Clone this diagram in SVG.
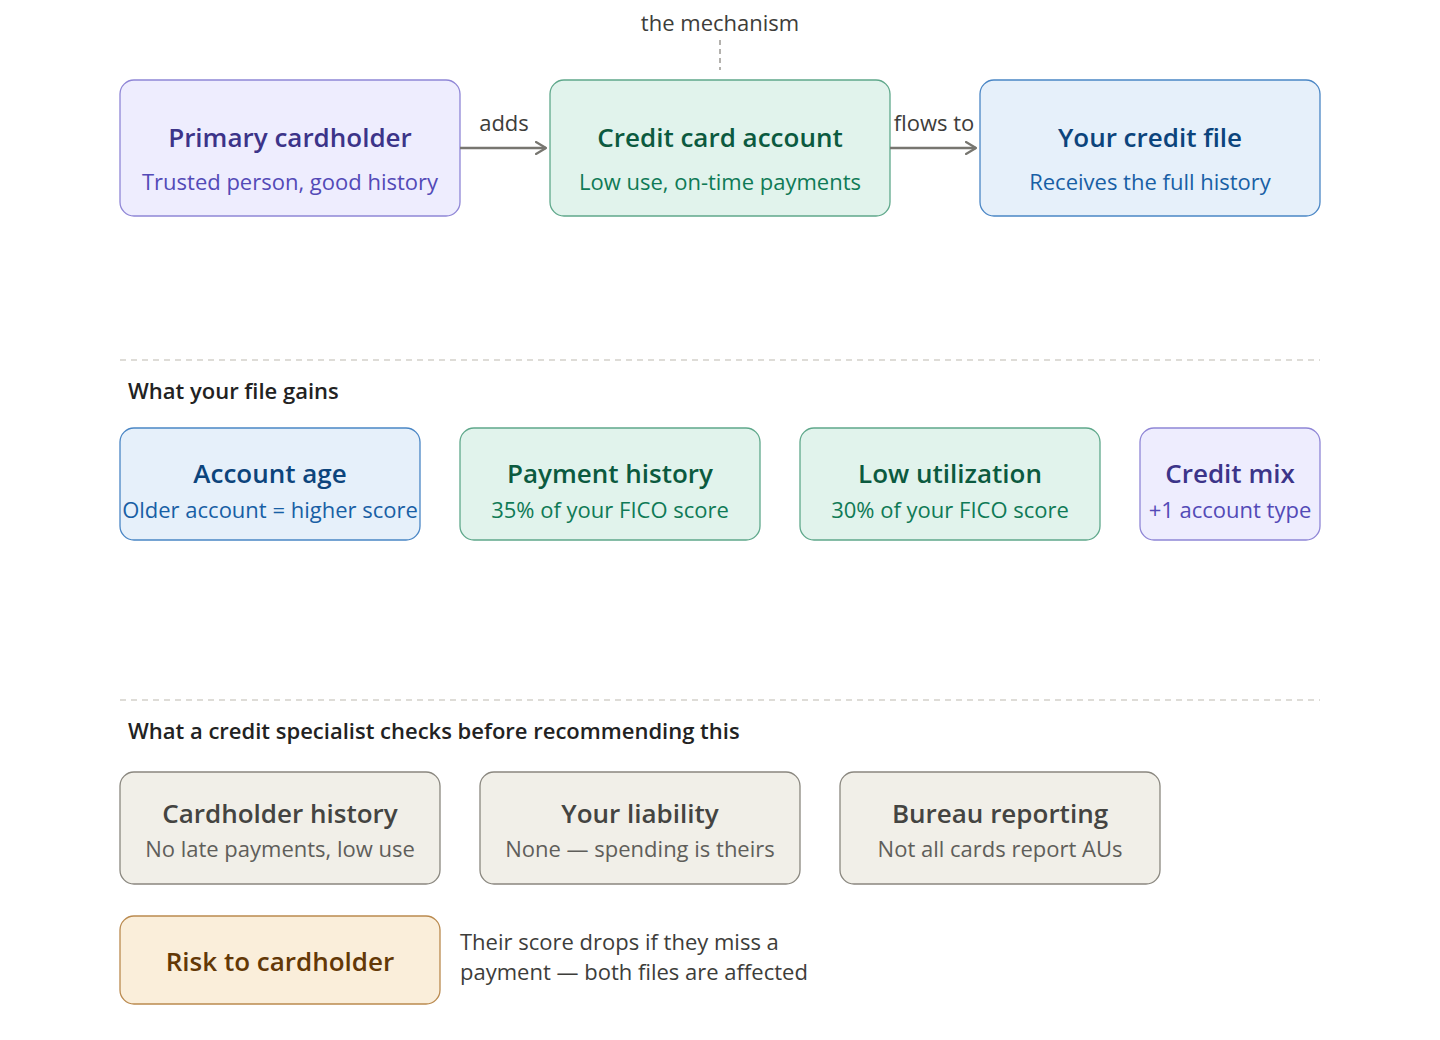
<svg xmlns="http://www.w3.org/2000/svg" width="1440" height="1040" viewBox="0 0 1440 1040">
<defs>
<marker id="arr" viewBox="0 0 12 14" refX="11" refY="7" markerWidth="12" markerHeight="14" markerUnits="userSpaceOnUse" orient="auto">
<path d="M1 1 L11 7 L1 13" fill="none" stroke="#777670" stroke-width="2.2" stroke-linecap="round" stroke-linejoin="round"/>
</marker>
<style>
text{font-family:"Open Sans","Noto Sans",sans-serif;}
.t{font-size:26px;font-weight:600;text-anchor:middle;}
.s{font-size:22px;text-anchor:middle;}
.lbl{font-size:22px;fill:#3d3d3a;}
.hd{font-size:22px;font-weight:600;fill:#222;}
.sep{stroke:#d3d1ca;stroke-width:1.5;stroke-dasharray:6 5;}
.purple rect{fill:#EEEDFE;stroke:#8F86D6;stroke-width:1.3;}
.purple .t{fill:#3C3489;} .purple .s{fill:#534AB7;}
.green rect{fill:#E1F3EC;stroke:#5FA88B;stroke-width:1.3;}
.green .t{fill:#0B5A3F;} .green .s{fill:#0F7A56;}
.blue rect{fill:#E6F0FA;stroke:#4A86C5;stroke-width:1.3;}
.blue .t{fill:#0C447C;} .blue .s{fill:#185FA5;}
.gray rect{fill:#F1EFE8;stroke:#8A877F;stroke-width:1.3;}
.gray .t{fill:#444441;} .gray .s{fill:#5F5E5A;}
.amber rect{fill:#FAEEDA;stroke:#BA8A4F;stroke-width:1.3;}
.amber .t{fill:#633806;}
.conn{stroke:#777670;stroke-width:2.5;fill:none;}
</style>
</defs>

<text class="lbl" x="720" y="31" text-anchor="middle">the mechanism</text>
<line x1="720" y1="40" x2="720" y2="70" stroke="#9a9892" stroke-width="1.5" stroke-dasharray="5 4"/>

<g id="primary" class="purple"><rect x="120" y="80" width="340" height="136" rx="14"/><text class="t" x="290" y="147">Primary cardholder</text><text class="s" x="290" y="190">Trusted person, good history</text></g>
<g id="account" class="green"><rect x="550" y="80" width="340" height="136" rx="14"/><text class="t" x="720" y="147">Credit card account</text><text class="s" x="720" y="190">Low use, on-time payments</text></g>
<g id="file" class="blue"><rect x="980" y="80" width="340" height="136" rx="14"/><text class="t" x="1150" y="147">Your credit file</text><text class="s" x="1150" y="190">Receives the full history</text></g>

<g id="connectors">
<line class="conn" x1="460" y1="148" x2="546" y2="148" marker-end="url(#arr)"/>
<text class="lbl" x="504" y="131" text-anchor="middle">adds</text>
<line class="conn" x1="890" y1="148" x2="976" y2="148" marker-end="url(#arr)"/>
<text class="lbl" x="934" y="131" text-anchor="middle">flows to</text>
</g>

<line class="sep" x1="120" y1="360" x2="1320" y2="360"/>
<text class="hd" x="128" y="399">What your file gains</text>

<g id="age" class="blue"><rect x="120" y="428" width="300" height="112" rx="14"/><text class="t" x="270" y="483">Account age</text><text class="s" x="270" y="518">Older account = higher score</text></g>
<g id="payhist" class="green"><rect x="460" y="428" width="300" height="112" rx="14"/><text class="t" x="610" y="483">Payment history</text><text class="s" x="610" y="518">35% of your FICO score</text></g>
<g id="util" class="green"><rect x="800" y="428" width="300" height="112" rx="14"/><text class="t" x="950" y="483">Low utilization</text><text class="s" x="950" y="518">30% of your FICO score</text></g>
<g id="mix" class="purple"><rect x="1140" y="428" width="180" height="112" rx="14"/><text class="t" x="1230" y="483">Credit mix</text><text class="s" x="1230" y="518">+1 account type</text></g>

<line class="sep" x1="120" y1="700" x2="1320" y2="700"/>
<text class="hd" x="128" y="739">What a credit specialist checks before recommending this</text>

<g id="chist" class="gray"><rect x="120" y="772" width="320" height="112" rx="14"/><text class="t" x="280" y="823">Cardholder history</text><text class="s" x="280" y="857">No late payments, low use</text></g>
<g id="liab" class="gray"><rect x="480" y="772" width="320" height="112" rx="14"/><text class="t" x="640" y="823">Your liability</text><text class="s" x="640" y="857">None — spending is theirs</text></g>
<g id="bureau" class="gray"><rect x="840" y="772" width="320" height="112" rx="14"/><text class="t" x="1000" y="823">Bureau reporting</text><text class="s" x="1000" y="857">Not all cards report AUs</text></g>

<g id="risk" class="amber"><rect x="120" y="916" width="320" height="88" rx="14"/><text class="t" x="280" y="971">Risk to cardholder</text></g>
<text class="lbl" x="460" y="950">Their score drops if they miss a</text>
<text class="lbl" x="460" y="980">payment — both files are affected</text>
</svg>
